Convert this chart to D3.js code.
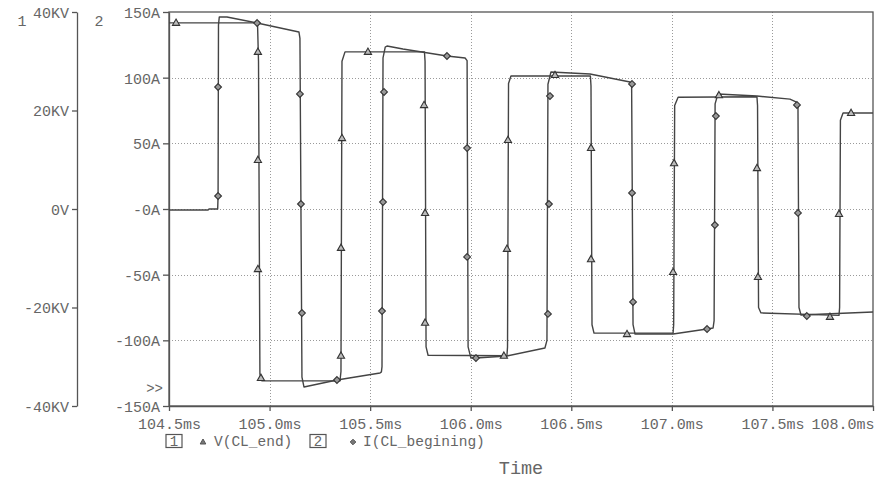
<!DOCTYPE html>
<html>
<head>
<meta charset="utf-8">
<script src="https://cdn.jsdelivr.net/npm/d3@7"></script>
<style>
  html, body { margin: 0; padding: 0; background: #fff; }
  svg { display: block; }
  text { font-family: "Liberation Mono", "DejaVu Sans Mono", monospace; fill: #666; }
</style>
</head>
<body>
<svg id="chart" width="875" height="479"></svg>
<script>
// Time axis (ms)
const timeTicks = [104.5, 105.0, 105.5, 106.0, 106.5, 107.0, 107.5, 108.0];
const timeTickLabels = ["104.5ms", "105.0ms", "105.5ms", "106.0ms", "106.5ms", "107.0ms", "107.5ms", "108.0ms"];

// Axis 1: voltage (KV)
const voltTicks = [-40, -20, 0, 20, 40];
const voltTickLabels = ["-40KV", "-20KV", "0V", "20KV", "40KV"];

// Axis 2: current (A)
const ampTicks = [-150, -100, -50, 0, 50, 100, 150];
const ampTickLabels = ["-150A", "-100A", "-50A", "-0A", "50A", "100A", "150A"];

// V(CL_end) trace: [time ms, KV]
const voltTime = [104.500, 104.940, 104.945, 104.952, 104.962, 105.350, 105.355, 105.360, 105.375, 105.770,
  105.773, 105.778, 105.788, 106.180, 106.183, 106.188, 106.200, 106.595, 106.598, 106.603,
  106.613, 107.006, 107.009, 107.014, 107.031, 107.423, 107.426, 107.431, 107.443, 107.831,
  107.834, 107.838, 107.851, 108.000];
const voltValue = [37.8, 37.8, 30.0, -33.5, -34.9, -34.9, -33.0, 30.0, 31.9, 31.9,
  30.0, -28.0, -29.7, -29.8, -28.0, 25.5, 27.0, 27.0, 25.0, -23.5,
  -25.2, -25.2, -23.5, 21.0, 22.7, 22.8, 21.0, -20.0, -21.1, -21.6,
  -20.0, 18.0, 19.5, 19.5];

// I(CL_begining) trace: [time ms, A]
const ampTime = [104.500, 104.694, 104.699, 104.742, 104.744, 104.746, 104.750, 104.788, 104.938, 105.146,
  105.151, 105.161, 105.171, 105.335, 105.549, 105.556, 105.559, 105.564, 105.575, 105.584,
  105.663, 105.882, 105.972, 105.982, 105.987, 106.001, 106.026, 106.180, 106.369, 106.379,
  106.384, 106.399, 106.593, 106.643, 106.792, 106.800, 106.807, 106.817, 107.006, 107.175,
  107.205, 107.210, 107.215, 107.229, 107.423, 107.587, 107.617, 107.627, 107.632, 107.642,
  108.000];
const ampValue = [-0.8, -0.8, 0, 0, 10, 140, 146.2, 146.2, 141.6, 134.8,
  130, -128, -135.5, -130.2, -124.9, -124, -120, 115, 123.3, 124.1,
  121.8, 116.5, 115.0, 113, -105, -113.5, -113.5, -111.9, -105.8, -100,
  95, 104.3, 102.8, 101.3, 96.7, 94, -88, -95.2, -95.2, -91.4,
  -90.6, -85, 80, 87.6, 86.0, 83.7, 81.5, 78, -75, -80.7,
  -78.4];

// Triangle markers on V(CL_end): [time ms, KV]
const voltMarkTime = [104.535, 104.942, 104.942, 104.942, 104.957, 105.355, 105.355, 105.360, 105.489, 105.768,
  105.773, 105.773, 106.165, 106.180, 106.185, 106.419, 106.598, 106.598, 106.777, 107.006,
  107.011, 107.234, 107.423, 107.428, 107.786, 107.831, 107.891];
const voltMarkValue = [37.8, 31.9, 9.95, -12.2, -34.3, -29.8, -7.9, 14.4, 31.9, 21.1,
  -0.8, -23.1, -29.8, -8.1, 14.0, 27.2, 12.4, -10.2, -25.4, -12.8,
  9.3, 23.1, 8.3, -13.8, -21.9, -1.0, 19.5];

// Diamond markers on I(CL_begining): [time ms, A]
const ampMarkTime = [104.744, 104.744, 104.938, 105.151, 105.156, 105.161, 105.335, 105.559, 105.564, 105.569,
  105.882, 105.982, 105.982, 106.026, 106.384, 106.389, 106.394, 106.802, 106.802, 106.807,
  107.175, 107.214, 107.219, 107.622, 107.627, 107.671];
const ampMarkValue = [9.9, 92.9, 141.6, 87.6, 3.8, -79.2, -130.2, -77.7, 5.3, 89.1,
  116.5, 46.4, -36.5, -113.5, -79.9, 3.8, 86.0, 95.2, 12.2, -70.8,
  -91.4, -12.2, 70.8, 79.2, -3.0, -81.5];

const svg = d3.select("#chart");
const plot = { left: 169, right: 873, top: 12, bottom: 406 };
const ink = "#444";
const textCol = "#666";

const x = d3.scaleLinear().domain([104.5, 108.0]).range([plot.left, plot.right]);
const yA = d3.scaleLinear().domain([-150, 150]).range([plot.bottom, plot.top]);
const yV = d3.scaleLinear().domain([-40, 40]).range([plot.bottom, plot.top]);

// dotted grid
const grid = svg.append("g").attr("stroke", "#9a9a9a").attr("stroke-width", 1).attr("stroke-dasharray", "1,2");
grid.selectAll("line.gx").data(timeTicks.slice(1, -1)).join("line")
  .attr("x1", d => Math.round(x(d)) + 0.5).attr("x2", d => Math.round(x(d)) + 0.5)
  .attr("y1", plot.top).attr("y2", plot.bottom);
grid.selectAll("line.gy").data(ampTicks.slice(1, -1)).join("line")
  .attr("x1", plot.left).attr("x2", plot.right)
  .attr("y1", d => Math.round(yA(d)) + 0.5).attr("y2", d => Math.round(yA(d)) + 0.5);

function styleAxis(g) {
  g.selectAll("path, line").attr("stroke", "#555").attr("stroke-width", 1.3);
  g.selectAll("text").attr("fill", textCol)
    .style("font-family", "'Liberation Mono', 'DejaVu Sans Mono', monospace")
    .style("font-size", "15px");
}

// axis 1 (KV)
const axisV = svg.append("g").attr("transform", "translate(77,0)")
  .call(d3.axisLeft(yV).tickValues(voltTicks).tickSize(5).tickSizeOuter(0).tickPadding(3)
    .tickFormat((d, i) => voltTickLabels[i]));
styleAxis(axisV);
axisV.selectAll("text").attr("dy", "0.36em");

// axis 2 (A)
const axisA = svg.append("g").attr("transform", `translate(${plot.left},0)`)
  .call(d3.axisLeft(yA).tickValues(ampTicks).tickSize(6).tickSizeOuter(0).tickPadding(3)
    .tickFormat((d, i) => ampTickLabels[i]));
styleAxis(axisA);
axisA.selectAll("text").attr("dy", "0.36em");

// time axis
const axisT = svg.append("g").attr("transform", `translate(0,${plot.bottom})`)
  .call(d3.axisBottom(x).tickValues(timeTicks).tickSize(5).tickSizeOuter(0).tickPadding(4)
    .tickFormat((d, i) => timeTickLabels[i]));
styleAxis(axisT);
axisT.selectAll("text").attr("dy", "0.9em");
axisT.selectAll(".tick").filter((d, i) => i === timeTicks.length - 1)
  .select("text").attr("text-anchor", "end").attr("dx", 1);

// plot frame
svg.append("rect")
  .attr("x", plot.left).attr("y", plot.top)
  .attr("width", plot.right - plot.left).attr("height", plot.bottom - plot.top)
  .attr("fill", "none").attr("stroke", "#555").attr("stroke-width", 1.3);

// axis numbers
svg.append("text").attr("x", 22).attr("y", 26).attr("text-anchor", "middle")
  .style("font-size", "15px").text("1");
svg.append("text").attr("x", 99).attr("y", 26).attr("text-anchor", "middle")
  .style("font-size", "15px").text("2");
svg.append("text").attr("x", 163).attr("y", 393).attr("text-anchor", "end")
  .style("font-size", "14px").text(">>");

// traces
svg.append("clipPath").attr("id", "plotclip").append("rect")
  .attr("x", plot.left).attr("y", plot.top)
  .attr("width", plot.right - plot.left).attr("height", plot.bottom - plot.top);

const traces = svg.append("g").attr("clip-path", "url(#plotclip)");

const voltLine = d3.line().x((d, i) => x(voltTime[i])).y((d, i) => yV(voltValue[i]));
const ampLine = d3.line().x((d, i) => x(ampTime[i])).y((d, i) => yA(ampValue[i]));

traces.append("path").datum(voltValue).attr("d", voltLine)
  .attr("fill", "none").attr("stroke", ink).attr("stroke-width", 1.4).attr("stroke-linejoin", "round");
traces.append("path").datum(ampValue).attr("d", ampLine)
  .attr("fill", "none").attr("stroke", ink).attr("stroke-width", 1.4).attr("stroke-linejoin", "round");

const triPath = "M0,-3.8L3.6,2.5L-3.6,2.5Z";
const diaPath = "M0,-3.4L3.4,0L0,3.4L-3.4,0Z";

traces.selectAll("path.tri").data(voltMarkValue).join("path")
  .attr("class", "tri")
  .attr("transform", (d, i) => `translate(${x(voltMarkTime[i])},${yV(d)})`)
  .attr("d", triPath).attr("fill", "#bbb").attr("stroke", "#333").attr("stroke-width", 1.1);

traces.selectAll("path.dia").data(ampMarkValue).join("path")
  .attr("class", "dia")
  .attr("transform", (d, i) => `translate(${x(ampMarkTime[i])},${yA(d)})`)
  .attr("d", diaPath).attr("fill", "#999").attr("stroke", "#333").attr("stroke-width", 1.1);

// legend
const legend = svg.append("g").attr("transform", "translate(0,441)");
function legendBox(cx, label) {
  legend.append("rect").attr("x", cx - 8).attr("y", -6.5).attr("width", 16).attr("height", 13)
    .attr("fill", "none").attr("stroke", "#555").attr("stroke-width", 1.2);
  legend.append("text").attr("x", cx).attr("y", 5).attr("text-anchor", "middle")
    .style("font-size", "14px").text(label);
}
legendBox(174, "1");
legend.append("path").attr("transform", "translate(203,1)").attr("d", "M0,-3L2.8,2L-2.8,2Z")
  .attr("fill", "#777").attr("stroke", "#555").attr("stroke-width", 1);
legend.append("text").attr("x", 214).attr("y", 5).style("font-size", "14.5px").text("V(CL_end)");
legendBox(318, "2");
legend.append("path").attr("transform", "translate(353,1)").attr("d", "M0,-2.8L2.8,0L0,2.8L-2.8,0Z")
  .attr("fill", "#777").attr("stroke", "#555").attr("stroke-width", 1);
legend.append("text").attr("x", 363).attr("y", 5).style("font-size", "14.5px").text("I(CL_begining)");

// axis title
svg.append("text").attr("x", 521).attr("y", 474).attr("text-anchor", "middle")
  .style("font-size", "18.5px").text("Time");
</script>
</body>
</html>
